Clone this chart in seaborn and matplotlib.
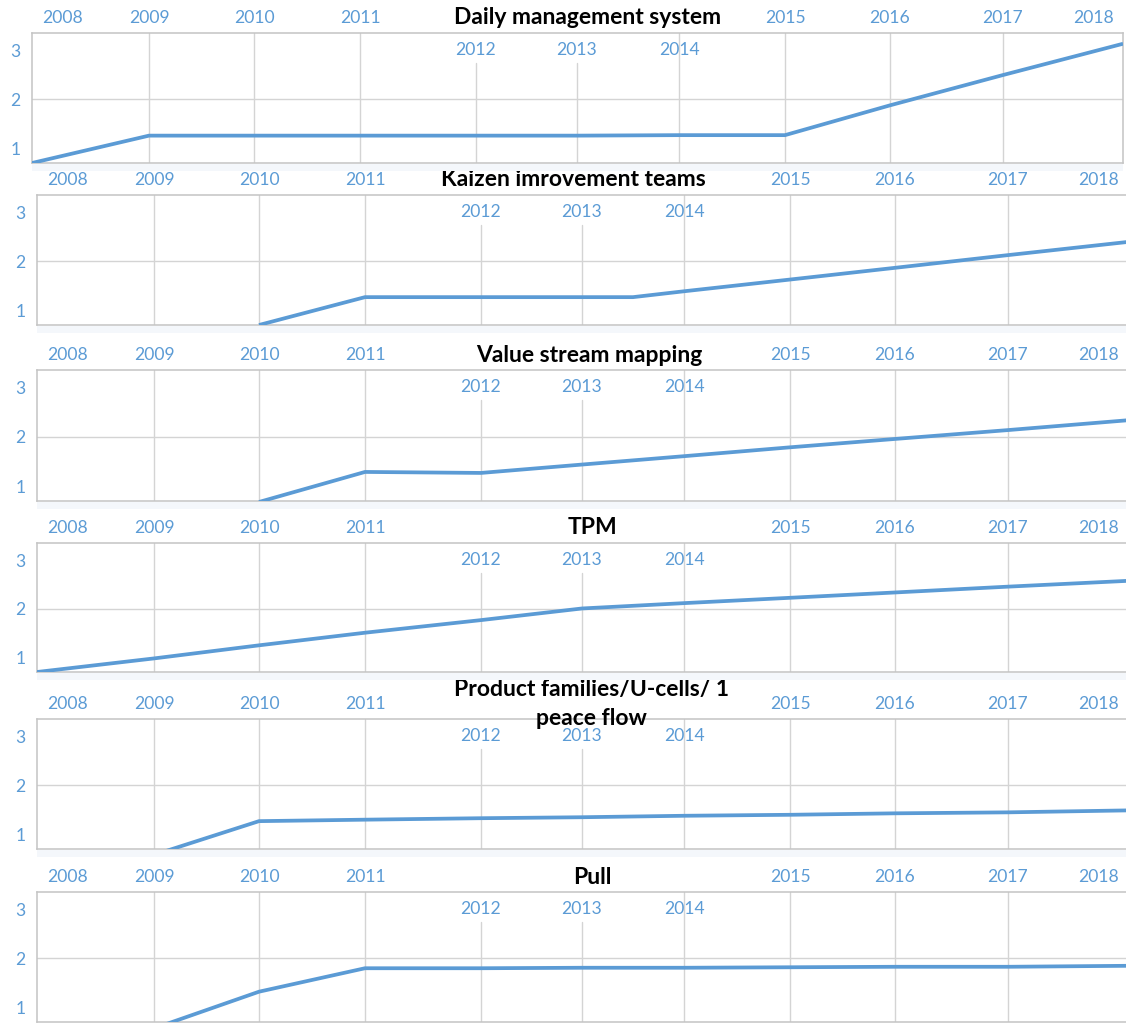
import numpy as np
import pandas as pd
import matplotlib
matplotlib.use("Agg")
import matplotlib.pyplot as plt
import seaborn as sns

# ---------------- data ----------------
years = [2008, 2009, 2010, 2011, 2012, 2013, 2014, 2015, 2016, 2017, 2018]
year_labels = [str(y) for y in years]
y_ticks = [1, 2, 3]

titles = [
    "Daily management system",
    "Kaizen imrovement teams",
    "Value stream mapping",
    "TPM",
    "Product families/U-cells/ 1\npeace flow",
    "Pull",
]

daily_x = [2008, 2009, 2010, 2011, 2012, 2013, 2014, 2015, 2016, 2017, 2018]
daily_y = [0.70, 1.26, 1.26, 1.26, 1.26, 1.26, 1.27, 1.27, 1.88, 2.50, 3.14]

kaizen_x = [2010, 2011, 2012, 2013, 2013.5, 2014, 2015, 2016, 2017, 2018]
kaizen_y = [0.70, 1.27, 1.27, 1.27, 1.27, 1.39, 1.63, 1.87, 2.13, 2.40]

vsm_x = [2010, 2011, 2012, 2013, 2014, 2015, 2016, 2017, 2018]
vsm_y = [0.68, 1.29, 1.27, 1.44, 1.61, 1.79, 1.96, 2.14, 2.34]

tpm_x = [2008, 2009, 2010, 2011, 2012, 2013, 2014, 2015, 2016, 2017, 2018]
tpm_y = [0.70, 0.98, 1.25, 1.51, 1.77, 2.01, 2.12, 2.23, 2.34, 2.46, 2.58]

pf_x = [2009, 2010, 2011, 2012, 2013, 2014, 2015, 2016, 2017, 2018]
pf_y = [0.58, 1.27, 1.30, 1.33, 1.35, 1.38, 1.40, 1.43, 1.45, 1.49]

pull_x = [2009, 2010, 2011, 2012, 2013, 2014, 2015, 2016, 2017, 2018]
pull_y = [0.57, 1.32, 1.80, 1.80, 1.81, 1.81, 1.82, 1.83, 1.83, 1.85]

series = [
    (daily_x, daily_y),
    (kaizen_x, kaizen_y),
    (vsm_x, vsm_y),
    (tpm_x, tpm_y),
    (pf_x, pf_y),
    (pull_x, pull_y),
]

# ---------------- layout / style ----------------
W, H = 1126, 1023
DPI = 100
BLUE = "#5B9BD5"
GRID = "#D4D4D4"
FRAME = "#C4C4C4"

# irregular spacing of the year gridlines on the category-like axis (layout)
grid_offsets = [0, 117, 222, 328, 444, 545, 647, 753, 858, 971, 1091]
yrs_ext = np.array([years[0] - 100] + years + [years[-1] + 100], dtype=float)
off_ext = np.array([-100 * 117] + grid_offsets + [1091 + 100 * 120], dtype=float)


def fwd(x):
    return np.interp(x, yrs_ext, off_ext)


def inv(x):
    return np.interp(x, off_ext, yrs_ext)


# panel frames in pixels: left, top, right, bottom
frames = [
    (32, 33, 1123, 163),
    (37, 195, 1128, 325),
    (37, 370, 1128, 501),
    (37, 543, 1128, 672),
    (37, 719, 1128, 849),
    (37, 892, 1128, 1022),
]
title_x = [588, 573, 589, 592, 591, 592]

sns.set_theme(style="white")
plt.rcParams["font.family"] = ["Lato", "DejaVu Sans"]

fig = plt.figure(figsize=(W / DPI, H / DPI), dpi=DPI)
fig.patch.set_facecolor("white")

YLO, YHI = 0.70, 3.36
LABEL_FS = 12.6
TITLE_FS = 16.5

for i, ((l, t, r, b), title, (sx, sy)) in enumerate(zip(frames, titles, series)):
    ax = fig.add_axes([l / W, 1 - b / H, (r - l) / W, (b - t) / H])
    ax.set_facecolor("white")

    # faint shadow band under the frame
    fig.patches.append(plt.Rectangle((l / W, 1 - (b + 8) / H), (r - l) / W, 7 / H,
                                     transform=fig.transFigure, facecolor="#F4F7FB",
                                     edgecolor="none", zorder=0))

    df = pd.DataFrame({"year": sx, "value": sy})
    sns.lineplot(data=df, x="year", y="value", ax=ax, color=BLUE, linewidth=2.7,
                 zorder=4, estimator=None, sort=True)
    for ln in ax.lines:
        ln.set_solid_joinstyle("round")
        ln.set_solid_capstyle("butt")

    ax.set_xscale("function", functions=(fwd, inv))
    ax.set_xlim(years[0], years[-1])
    ax.set_ylim(YLO, YHI)
    ax.set_xlabel("")
    ax.set_ylabel("")
    ax.set_xticks([])
    ax.set_yticks(y_ticks)
    ax.set_yticklabels([str(v) for v in y_ticks])
    ax.tick_params(axis="y", length=0, pad=8, labelcolor=BLUE, labelsize=LABEL_FS)

    for sp in ax.spines.values():
        sp.set_color(FRAME)
        sp.set_linewidth(1.1)

    # gridlines
    ax.axhline(2, color=GRID, lw=1.0, zorder=1)
    h = b - t
    for yr in years[1:-1]:
        top_frac = 1 - 30 / h if yr in (2012, 2013) else 1.0
        ax.axvline(yr, ymin=0, ymax=top_frac, color=GRID, lw=1.0, zorder=1)

    # year labels
    for yr, lab in zip(years, year_labels):
        if yr in (2012, 2013, 2014):
            dx, dy = 0, -17
        elif yr == years[0]:
            dx, dy = 31, 15
        elif yr == years[-1]:
            dx, dy = -29, 15
        else:
            dx, dy = 0, 15
        ax.annotate(lab, xy=(yr, 1.0), xycoords=("data", "axes fraction"),
                    xytext=(dx, dy), textcoords="offset pixels",
                    ha="center", va="center", color=BLUE, fontsize=LABEL_FS,
                    annotation_clip=False, zorder=5)

    # title
    ax.annotate(title, xy=(title_x[i], 1.0), xycoords=("figure pixels", "axes fraction"),
                xytext=(0, 15), textcoords="offset pixels", ha="center", va="center",
                fontsize=TITLE_FS, fontweight="bold", color="black", linespacing=1.5,
                annotation_clip=False, zorder=6)

fig.savefig("out.png", dpi=DPI, facecolor="white")
